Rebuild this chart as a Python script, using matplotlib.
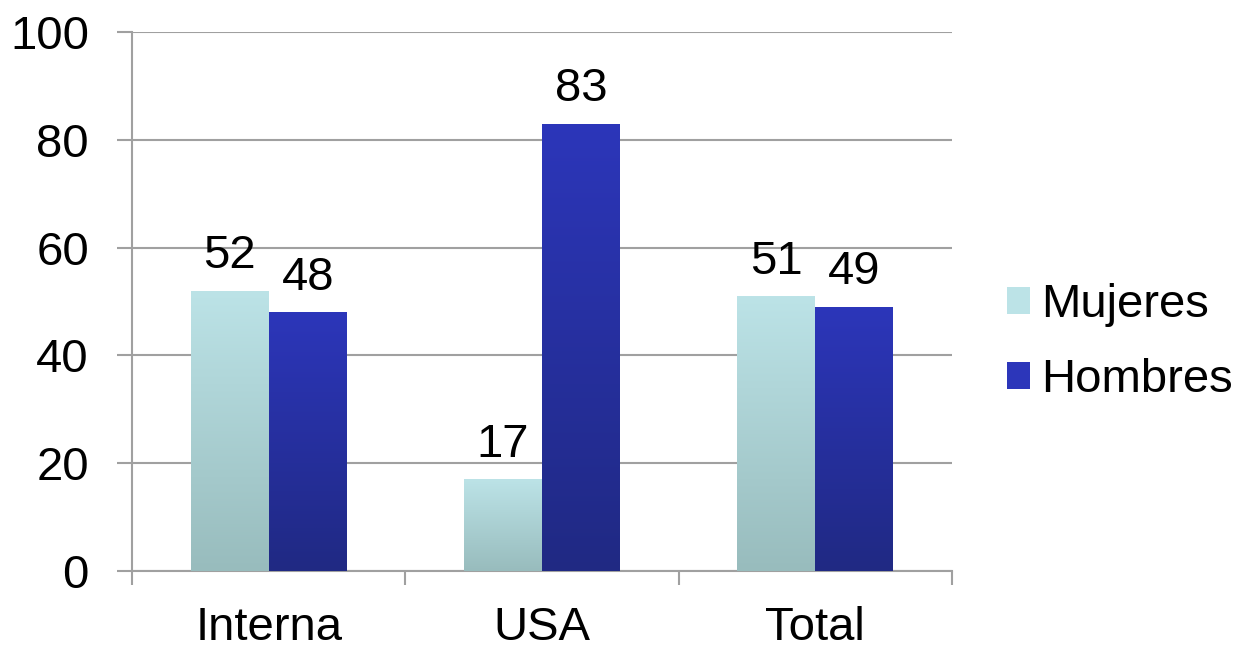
import numpy as np
import matplotlib.pyplot as plt
from matplotlib.patches import Patch
from matplotlib.colors import LinearSegmentedColormap

categories = ['Interna', 'USA', 'Total']
mujeres = [52, 17, 51]
hombres = [48, 83, 49]
series_names = ['Mujeres', 'Hombres']
y_ticks = [0, 20, 40, 60, 80, 100]

# gradient colours (top -> bottom)
muj_grad = ('#BCE3E7', '#98BCBD')
hom_grad = ('#2C36BA', '#202983')

plt.rcParams['font.family'] = ['Liberation Sans', 'DejaVu Sans']
FS = 34

fig = plt.figure(figsize=(12.42, 6.52), dpi=100)
ax = fig.add_axes([0.1063, 0.1242, 0.6602, 0.8267])

x = np.arange(len(categories))
w = 0.285


def gradient_bars(ax, xs, vals, cols):
    # each bar gets its own top->bottom gradient
    cmap = LinearSegmentedColormap.from_list('g', [cols[1], cols[0]])
    bars = ax.bar(xs, vals, w, color='none', edgecolor='none', zorder=3)
    grad = np.linspace(0, 1, 256).reshape(-1, 1)
    for b in bars:
        x0 = b.get_x()
        x1 = x0 + b.get_width()
        im = ax.imshow(grad, cmap=cmap, extent=[x0, x1, 0, b.get_height()],
                       origin='lower', aspect='auto', zorder=3)
        im.set_clip_path(b)
    return bars


b1 = gradient_bars(ax, x - w / 2, mujeres, muj_grad)
b2 = gradient_bars(ax, x + w / 2, hombres, hom_grad)

for bars, vals in ((b1, mujeres), (b2, hombres)):
    for b, v in zip(bars, vals):
        ax.annotate(str(v), (b.get_x() + b.get_width() / 2, v), xytext=(0, 9),
                    textcoords='offset points', ha='center', va='bottom', fontsize=FS)

ax.set_xlim(-0.5, len(categories) - 0.5)
ax.set_ylim(0, 100)
ax.set_yticks(y_ticks)
ax.tick_params(axis='y', labelsize=FS, length=11, width=1.5, color='#A0A0A0', pad=20)
ax.yaxis.grid(True, color='#A0A0A0', linewidth=1.5, zorder=0)
ax.set_axisbelow(True)

ax.set_xticks(x)
ax.set_xticklabels(categories)
ax.set_xticks(np.arange(len(categories) + 1) - 0.5, minor=True)
ax.tick_params(axis='x', which='major', length=0, labelsize=FS, pad=25)
ax.tick_params(axis='x', which='minor', length=10, width=1.5, color='#A0A0A0')

for s in ('top', 'right'):
    ax.spines[s].set_visible(False)
for s in ('left', 'bottom'):
    ax.spines[s].set_color('#A0A0A0')
    ax.spines[s].set_linewidth(1.5)

handles = [Patch(facecolor=muj_grad[0], edgecolor='none'),
           Patch(facecolor=hom_grad[0], edgecolor='none')]
fig.legend(handles, series_names, loc='center left', bbox_to_anchor=(0.7915, 0.4743),
           frameon=False, fontsize=FS, handlelength=0.5, handleheight=0.5,
           handletextpad=0.23, labelspacing=0.66, borderpad=0)

fig.savefig('out.png', dpi=100)
